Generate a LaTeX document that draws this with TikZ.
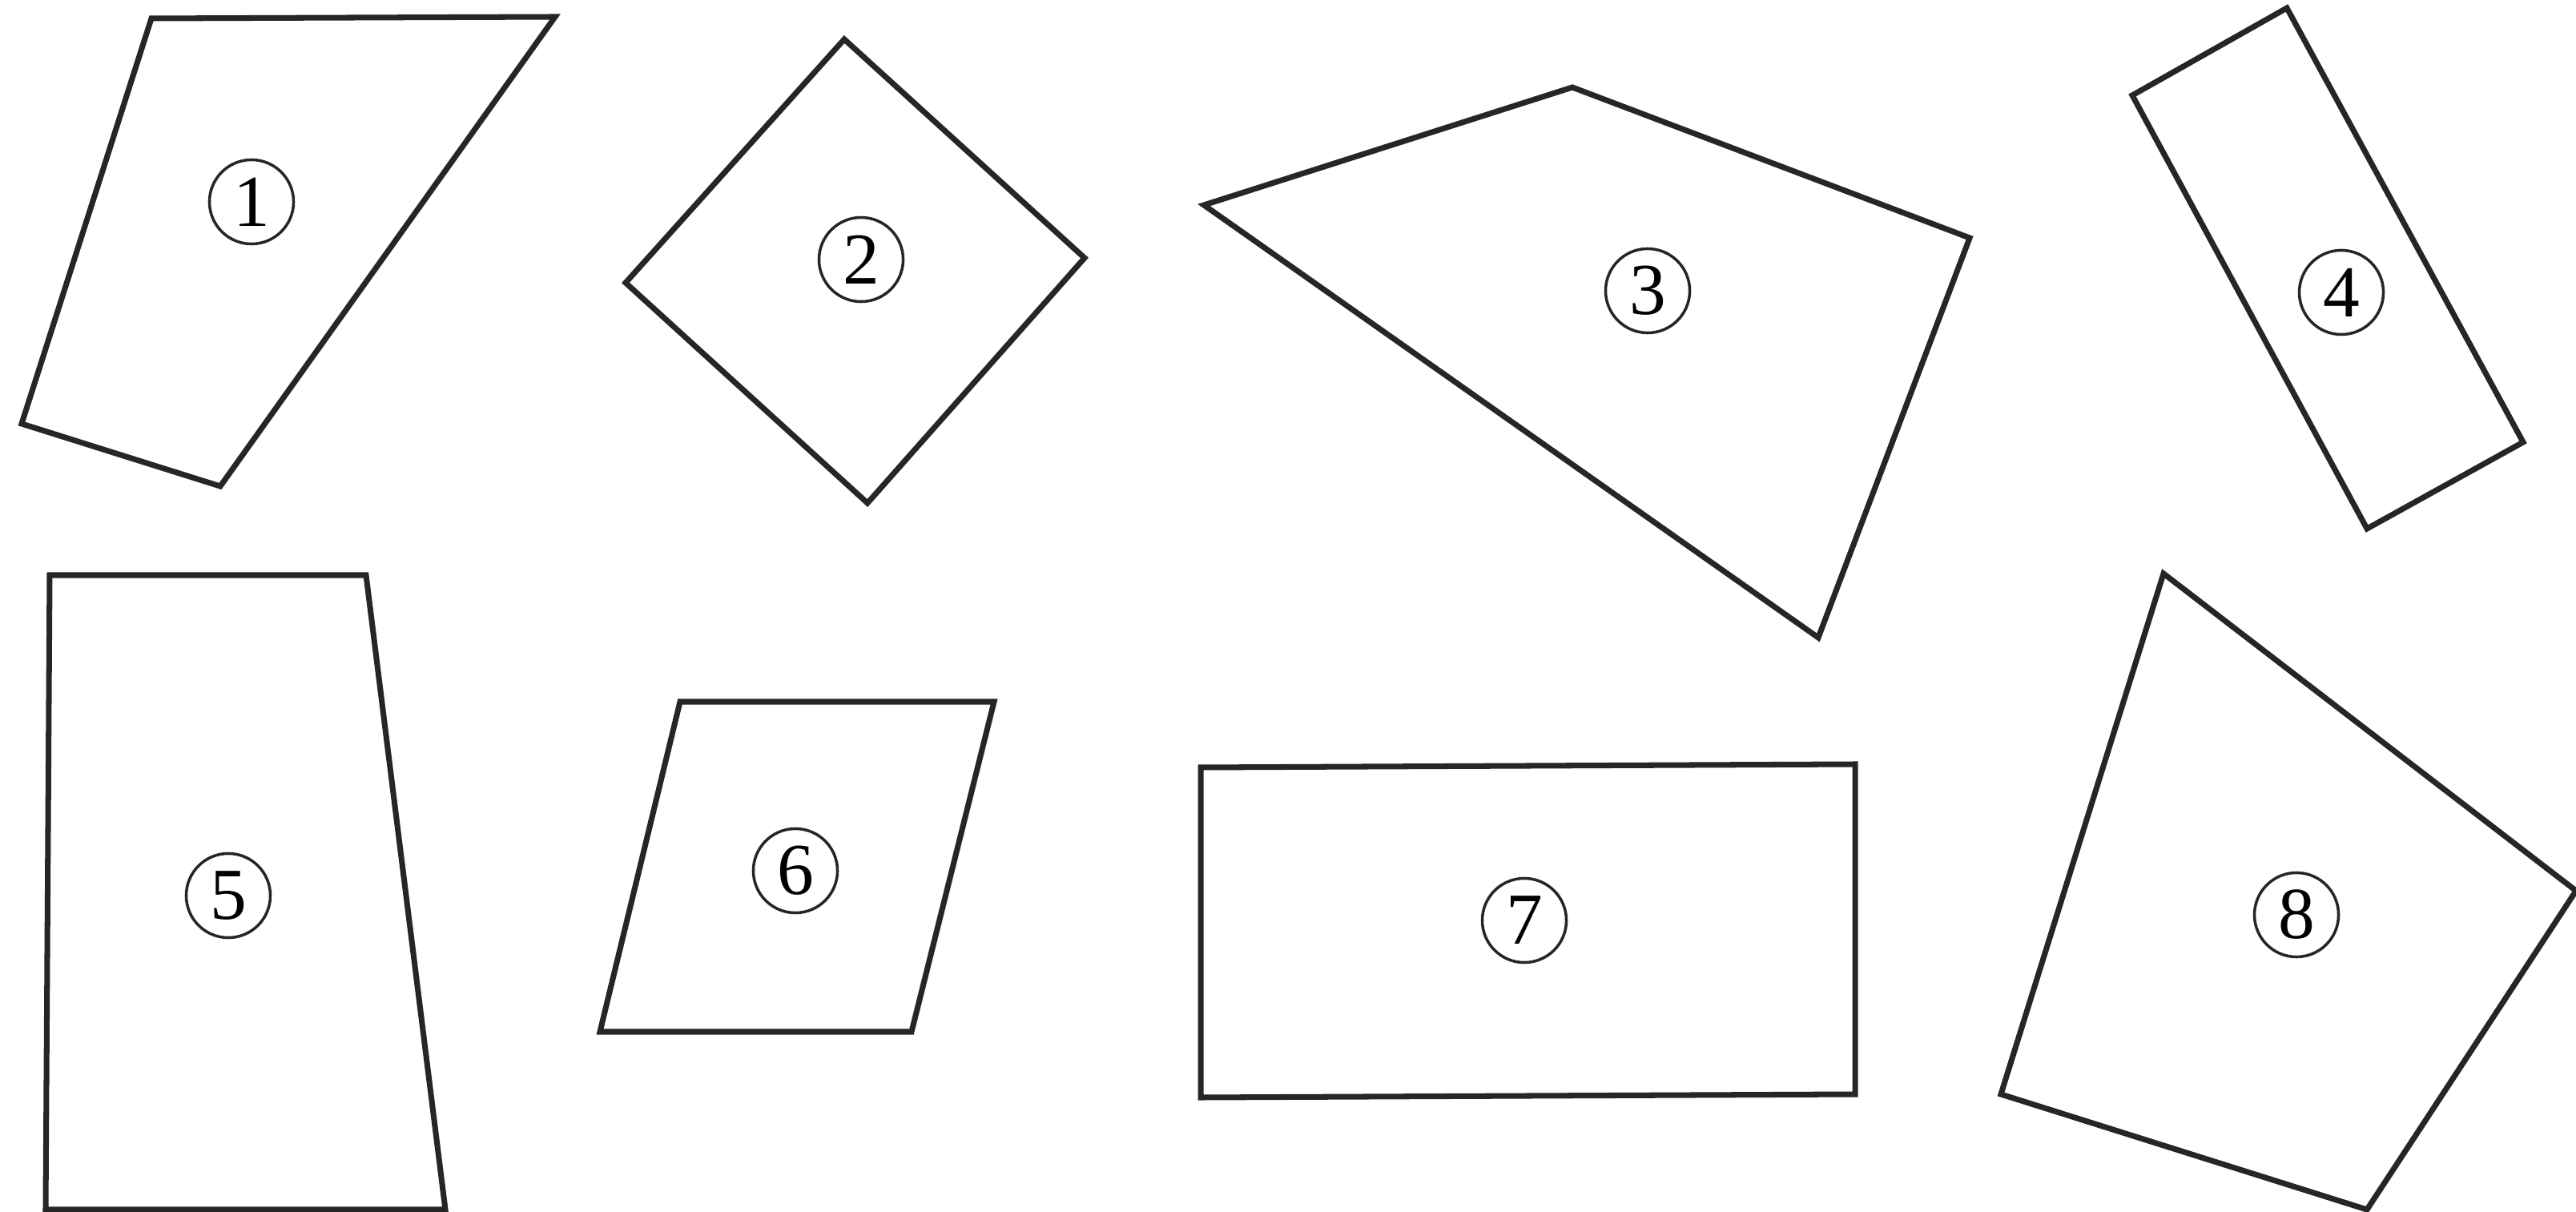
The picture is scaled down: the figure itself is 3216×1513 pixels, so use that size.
\documentclass[tikz,border=0pt]{standalone}
\usepackage{fontspec}
\setmainfont{Liberation Serif}
\begin{document}
\begin{tikzpicture}[x=0.01cm,y=-0.01cm,
  quad/.style={draw=black!85, line width=2pt, line join=miter},
  lbl/.style={circle, draw=black!85, line width=1pt, minimum size=1.05cm, inner sep=0pt, font=\fontsize{26}{26}\selectfont}]
\useasboundingbox (0,0) rectangle (3216,1513);
\fill[white] (0,0) rectangle (3216,1513);
% 1
\draw[quad] (189,23) -- (693,21) -- (275,607) -- (27,529) -- cycle;
\node[lbl] (n1) at (314,252) {1};
% 2
\draw[quad] (1054,49) -- (1354,322) -- (1083,628) -- (781,353) -- cycle;
\node[lbl] (n2) at (1075,324) {2};
% 3
\draw[quad] (1963,109) -- (2459,297) -- (2270,796) -- (1503,256) -- cycle;
\node[lbl] (n3) at (2057,363) {3};
% 4
\draw[quad] (2855,10) -- (3150,552) -- (2955,660) -- (2662,119) -- cycle;
\node[lbl] (n4) at (2923,365) {4};
% 5
\draw[quad] (62,718) -- (457,718) -- (556,1510) -- (57,1510) -- cycle;
\node[lbl] (n5) at (285,1118) {5};
% 6
\draw[quad] (849,876) -- (1241,876) -- (1138,1288) -- (749,1288) -- cycle;
\node[lbl] (n6) at (993,1087) {6};
% 7
\draw[quad] (1499,958) -- (2316,954) -- (2316,1366) -- (1499,1370) -- cycle;
\node[lbl] (n7) at (1903,1149) {7};
% 8
\draw[quad] (2701,716) -- (3216,1112) -- (2955,1510) -- (2498,1366) -- cycle;
\node[lbl] (n8) at (2867,1142) {8};
\end{tikzpicture}
\end{document}
